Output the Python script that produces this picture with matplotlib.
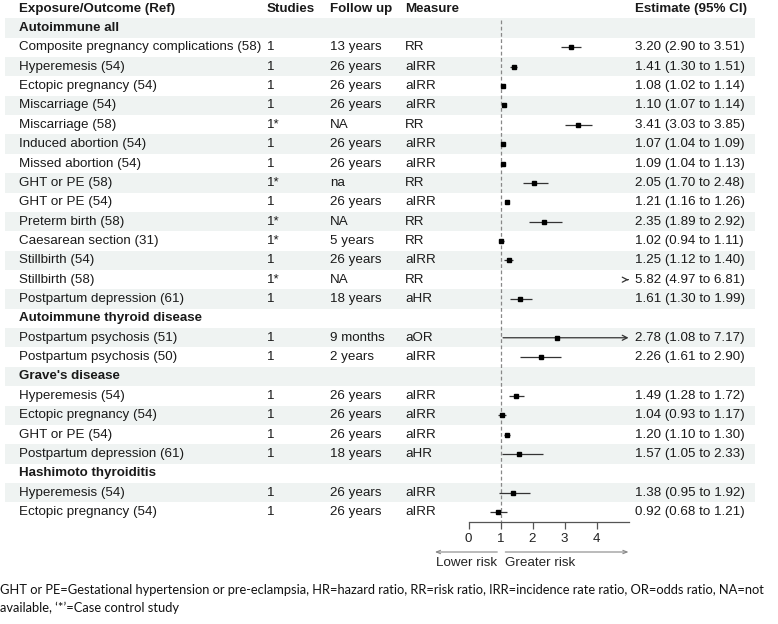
import numpy as np
import matplotlib
matplotlib.use("Agg")
import matplotlib.pyplot as plt
from matplotlib.patches import Rectangle

# ---------------- data ----------------
labels = ["Autoimmune all", "Composite pregnancy complications (58)", "Hyperemesis (54)",
          "Ectopic pregnancy (54)", "Miscarriage (54)", "Miscarriage (58)", "Induced abortion (54)",
          "Missed abortion (54)", "GHT or PE (58)", "GHT or PE (54)", "Preterm birth (58)",
          "Caesarean section (31)", "Stillbirth (54)", "Stillbirth (58)", "Postpartum depression (61)",
          "Autoimmune thyroid disease", "Postpartum psychosis (51)", "Postpartum psychosis (50)",
          "Grave's disease", "Hyperemesis (54)", "Ectopic pregnancy (54)", "GHT or PE (54)",
          "Postpartum depression (61)", "Hashimoto thyroiditis", "Hyperemesis (54)",
          "Ectopic pregnancy (54)"]
studies = ["", "1", "1", "1", "1", "1*", "1", "1", "1*", "1", "1*", "1*", "1", "1*", "1",
           "", "1", "1", "", "1", "1", "1", "1", "", "1", "1"]
follow_up = ["", "13 years", "26 years", "26 years", "26 years", "NA", "26 years", "26 years",
             "na", "26 years", "NA", "5 years", "26 years", "NA", "18 years", "", "9 months",
             "2 years", "", "26 years", "26 years", "26 years", "18 years", "", "26 years", "26 years"]
measure = ["", "RR", "aIRR", "aIRR", "aIRR", "RR", "aIRR", "aIRR", "RR", "aIRR", "RR", "RR",
           "aIRR", "RR", "aHR", "", "aOR", "aIRR", "", "aIRR", "aIRR", "aIRR", "aHR", "",
           "aIRR", "aIRR"]
nan = np.nan
est = [nan, 3.20, 1.41, 1.08, 1.10, 3.41, 1.07, 1.09, 2.05, 1.21, 2.35, 1.02, 1.25, 5.82, 1.61,
       nan, 2.78, 2.26, nan, 1.49, 1.04, 1.20, 1.57, nan, 1.38, 0.92]
lower = [nan, 2.90, 1.30, 1.02, 1.07, 3.03, 1.04, 1.04, 1.70, 1.16, 1.89, 0.94, 1.12, 4.97, 1.30,
         nan, 1.08, 1.61, nan, 1.28, 0.93, 1.10, 1.05, nan, 0.95, 0.68]
upper = [nan, 3.51, 1.51, 1.14, 1.14, 3.85, 1.09, 1.13, 2.48, 1.26, 2.92, 1.11, 1.40, 6.81, 1.99,
         nan, 7.17, 2.90, nan, 1.72, 1.17, 1.30, 2.33, nan, 1.92, 1.21]
headers = ["Exposure/Outcome (Ref)", "Studies", "Follow up", "Measure", "Estimate (95% CI)"]
xticks = [0, 1, 2, 3, 4]
xlim = (0, 5)
footnote = ["GHT or PE=Gestational hypertension or pre-eclampsia, HR=hazard ratio, RR=risk ratio, "
            "IRR=incidence rate ratio, OR=odds ratio, NA=not",
            "available, \u2018*\u2019=Case control study"]

# ---------------- layout ----------------
W, H = 778, 624
plt.rcParams['font.family'] = ['Liberation Sans', 'DejaVu Sans']
fig = plt.figure(figsize=(W / 100, H / 100), dpi=100)

row0_px, row_h = 28.0, 19.36
def px2row(py):
    return (py - row0_px) / row_h

tab = fig.add_axes([0, 0, 1, 1])
tab.set_xlim(0, W)
tab.set_ylim(px2row(H), px2row(0))
tab.axis("off")

fs = 9.6
txt_col = "#1a1a1a"
col_x = [19, 267, 330, 405, 635]
n = len(labels)

# shading
for r in range(0, n, 2):
    tab.add_patch(Rectangle((5, r - 0.5), 750, 1.0, facecolor="#eff3f2", edgecolor="none", zorder=0))

for hx, h in zip(col_x, headers):
    tab.text(hx, -1, h, fontsize=fs, fontweight="bold", va="center", ha="left", color=txt_col)

for r in range(n):
    is_group = np.isnan(est[r])
    tab.text(col_x[0], r, labels[r], fontsize=fs, va="center", ha="left", color=txt_col,
             fontweight="bold" if is_group else "normal")
    tab.text(col_x[1], r, studies[r], fontsize=fs, va="center", ha="left", color=txt_col)
    tab.text(col_x[2], r, follow_up[r], fontsize=fs, va="center", ha="left", color=txt_col)
    tab.text(col_x[3], r, measure[r], fontsize=fs, va="center", ha="left", color=txt_col)
    if not is_group:
        tab.text(col_x[4], r, f"{est[r]:.2f} ({lower[r]:.2f} to {upper[r]:.2f})", fontsize=fs,
                 va="center", ha="left", color=txt_col)

# forest axes
ax_left, ax_right, ax_bottom = 468.5, 628.5, 521.5
fa = fig.add_axes([ax_left / W, 1 - ax_bottom / H, (ax_right - ax_left) / W, ax_bottom / H])
fa.set_xlim(*xlim)
fa.set_ylim(px2row(ax_bottom), px2row(0))
fa.patch.set_alpha(0)
for s in ["top", "right", "left"]:
    fa.spines[s].set_visible(False)
fa.spines["bottom"].set_color("#555555")
fa.spines["bottom"].set_linewidth(0.9)
fa.set_yticks([])
fa.set_xticks(xticks)
fa.tick_params(axis="x", direction="out", length=5, width=0.9, color="#555555",
               labelsize=fs, labelcolor="#222222", pad=3)

fa.vlines(1, px2row(20), px2row(ax_bottom), colors="#888888", linestyles=(0, (3, 2)), lw=0.9, zorder=1)

for r in range(n):
    if np.isnan(est[r]):
        continue
    lo = max(lower[r], xlim[0])
    hi = min(upper[r], xlim[1])
    if upper[r] > xlim[1]:
        fa.annotate("", xy=(hi, r), xytext=(lo, r),
                    arrowprops=dict(arrowstyle="->,head_length=0.35,head_width=0.18",
                                    color="#333333", lw=0.9, shrinkA=0, shrinkB=0),
                    annotation_clip=False)
    else:
        fa.plot([lo, hi], [r, r], color="#333333", lw=0.9, zorder=2, solid_capstyle="butt")
    if xlim[0] <= est[r] <= xlim[1]:
        fa.plot([est[r]], [r], marker="s", markersize=3.0, color="black", zorder=3, linestyle="none")

# lower / greater risk arrows
ya = px2row(552)
fa.annotate("", xy=(-1.05, ya), xytext=(0.9, ya),
            arrowprops=dict(arrowstyle="->,head_length=0.3,head_width=0.12", color="#888888", lw=0.8,
                            shrinkA=0, shrinkB=0), annotation_clip=False)
fa.annotate("", xy=(5.0, ya), xytext=(1.15, ya),
            arrowprops=dict(arrowstyle="->,head_length=0.3,head_width=0.12", color="#888888", lw=0.8,
                            shrinkA=0, shrinkB=0), annotation_clip=False)
yt = px2row(563)
fa.text(0.9, yt, "Lower risk", fontsize=fs, ha="right", va="center", color="#222222", clip_on=False)
fa.text(1.15, yt, "Greater risk", fontsize=fs, ha="left", va="center", color="#222222", clip_on=False)

# footnote
fig.text(0.5 / W, 1 - 590 / H, footnote[0], fontsize=9.25, family=["Lato", "DejaVu Sans"],
         ha="left", va="center", color="#111111")
fig.text(0.5 / W, 1 - 608 / H, footnote[1], fontsize=9.25, family=["Lato", "DejaVu Sans"],
         ha="left", va="center", color="#111111")

fig.savefig("out.png", dpi=100, facecolor="white")
